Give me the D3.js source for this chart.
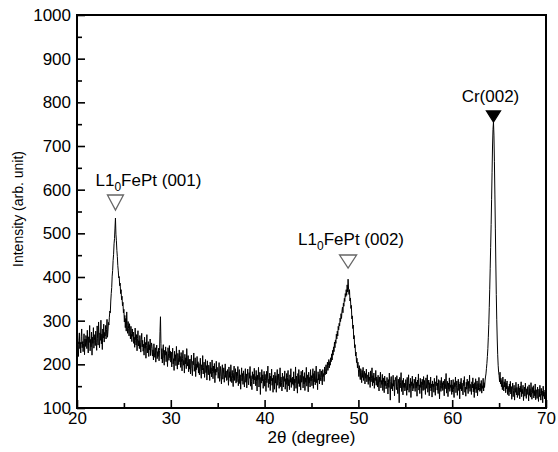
<!DOCTYPE html>
<html>
<head>
<meta charset="utf-8">
<script src="https://cdn.jsdelivr.net/npm/d3@7/dist/d3.min.js"></script>
<style>
	body { margin: 0; background: #fff; }
	text { font-family: "Liberation Sans", Arial, Helvetica, sans-serif; }
</style>
</head>
<body>
<svg id="xrd"></svg>
<script>
// scan starts at 20 deg, one reading every 0.05 deg (one row = one degree)
const thetaStart = 20;
const thetaStep = 0.05;
const intensity = [
	232,261,240,218,255,272,236,249,226,264,281,238,252,229,247,270,222,258,241,266,
	259,236,278,244,226,263,250,289,231,257,240,274,221,262,248,284,237,255,268,243,
	276,250,232,288,259,244,297,266,238,272,255,301,247,269,234,281,260,292,251,273,
	265,289,258,280,303,262,276,296,290,308,322,318,345,362,376,402,415,438,452,476,
	488,512,535,498,483,461,447,426,414,398,401,380,386,362,371,348,356,334,342,318,
	326,297,312,284,305,276,320,289,271,298,282,265,293,276,258,287,270,252,281,264,
	274,248,262,239,283,255,244,268,231,259,277,242,254,236,266,249,228,257,271,240,
	255,230,246,221,262,237,250,214,243,268,226,239,252,218,245,233,258,220,236,249,
	241,219,233,210,247,226,216,238,205,231,244,213,229,218,237,208,232,275,309,248,
	212,236,203,227,245,214,198,232,221,240,206,229,217,195,238,224,209,243,215,230,
	205,228,194,219,237,201,213,186,230,208,222,197,241,210,189,225,215,199,233,206,
	218,193,227,205,185,214,232,198,209,180,223,201,215,190,236,207,196,220,183,211,
	189,212,178,203,221,191,174,207,199,226,184,195,215,172,201,188,218,193,206,180,
	202,176,195,214,183,168,199,187,220,178,193,205,170,189,211,181,197,164,208,185,
	176,198,187,163,205,179,192,171,210,184,167,196,181,202,158,189,175,207,182,193,
	190,168,183,204,161,178,195,172,155,187,199,166,180,192,159,176,201,170,185,163,
	165,188,176,152,194,170,183,161,199,174,158,186,168,149,181,196,163,177,190,157,
	182,160,173,195,151,167,188,156,176,143,170,192,162,179,154,185,166,148,174,190,
	159,178,146,171,189,163,153,181,168,195,150,174,161,142,183,167,177,155,191,164,
	172,151,186,160,139,175,165,193,148,169,182,131,170,157,188,162,176,145,167,184,
	150,177,163,138,184,158,171,196,147,166,155,180,140,173,162,189,152,168,136,175,
	166,143,182,157,174,136,169,188,152,163,178,145,160,192,149,171,158,139,180,164,
	148,172,161,185,143,167,154,179,137,170,186,151,165,142,176,159,190,147,168,155,
	171,152,183,139,166,158,194,145,173,161,134,179,156,188,149,167,175,141,184,159,
	163,187,146,172,155,181,140,169,159,193,150,176,164,137,182,157,170,148,188,162,
	174,151,168,190,145,179,160,185,153,171,196,158,167,142,183,164,177,155,189,169,
	162,185,170,153,188,172,179,161,194,176,183,199,178,191,205,186,197,211,192,206,
	198,215,206,224,210,232,221,240,229,251,238,256,248,269,258,276,265,287,279,294,
	288,306,298,316,305,322,331,318,340,333,351,344,362,355,371,358,382,366,395,372,
	360,371,345,352,328,335,304,311,282,290,258,266,238,245,219,228,204,214,192,205,
	188,172,197,178,165,190,181,158,186,170,193,163,177,184,155,179,168,189,160,174,
	176,154,182,163,171,147,185,160,168,192,151,174,158,180,145,169,163,186,152,171,
	167,148,175,155,139,171,160,182,146,163,154,177,140,158,169,135,173,151,162,144,
	149,170,158,132,165,147,180,153,118,161,172,144,156,139,175,150,164,128,159,170,
	161,142,174,150,133,166,155,112,170,146,159,181,138,154,163,130,168,147,157,139,
	144,165,152,129,170,141,158,176,136,155,147,168,124,160,151,173,139,156,145,166,
	157,138,171,146,159,127,164,150,178,141,153,133,168,147,160,122,166,152,140,172,
	142,163,150,131,169,145,157,176,136,152,164,128,158,146,171,139,155,125,162,149,
	155,136,168,147,129,160,151,174,141,157,133,165,148,121,163,152,138,170,145,158,
	140,162,151,128,166,144,155,179,134,150,161,126,157,143,169,138,153,147,164,131,
	153,137,165,142,124,158,149,171,135,152,162,129,147,166,140,155,121,160,144,168,
	139,157,146,130,163,151,172,136,148,127,159,143,166,150,133,161,145,175,138,154,
	152,131,160,146,169,137,155,124,158,143,167,135,150,162,128,156,141,170,147,138,
	156,140,163,134,151,145,168,139,158,147,162,171,178,190,202,218,236,262,291,330,
	372,420,468,520,578,640,700,738,755,725,664,590,512,432,360,302,258,222,198,182,
	174,160,182,155,168,149,163,142,171,153,139,160,148,166,135,157,144,162,131,150,
	146,128,155,137,161,132,149,120,143,157,126,140,152,118,145,136,159,130,147,124,
	141,155,129,146,121,150,137,160,126,143,133,152,117,139,148,127,157,135,122,144,
	131,149,138,116,153,129,144,125,158,136,120,147,134,151,123,140,128,155,119,142,
	137,122,148,130,115,143,126,152,133,118,145,129,139,112,150,127,136,121,141,128,
	132
];

const xTicks = [20, 30, 40, 50, 60, 70];
const xMinorTicks = [25, 35, 45, 55, 65];
const yTicks = [100, 200, 300, 400, 500, 600, 700, 800, 900, 1000];
const yMinorTicks = [150, 250, 350, 450, 550, 650, 750, 850, 950];

const peakTheta = [24.1, 48.9, 64.4];
const peakLabel = [["L1", "0", "FePt (001)"], ["L1", "0", "FePt (002)"], ["Cr(002)"]];
const peakFilled = [false, false, true];

const width = 558, height = 452;
const plot = { left: 77, right: 546, top: 15, bottom: 408 };

// marker apex y, marker size and label offset for each peak
const markLayout = [
	{ apex: 210, w: 16, h: 15, dx: 33, ty: 186 },
	{ apex: 268, w: 17, h: 13, dx: 3, ty: 245 },
	{ apex: 122, w: 14, h: 11, dx: -3, ty: 102 }
];

const svg = d3.select("#xrd")
							.attr("width", width)
							.attr("height", height);

const x = d3.scaleLinear().domain([20, 70]).range([plot.left, plot.right]);
const y = d3.scaleLinear().domain([100, 1000]).range([plot.bottom, plot.top]);

const line = d3.line()
							 .x((d, i) => x(thetaStart + i * thetaStep))
							 .y(d => y(d));

svg.append("path")
	 .datum(intensity)
	 .attr("d", line)
	 .attr("fill", "none")
	 .attr("stroke", "#000")
	 .attr("stroke-width", 1);

// axes, ticks pointing inward
const xAxis = svg.append("g").attr("transform", "translate(0," + plot.bottom + ")");
xAxis.call(d3.axisBottom(x).tickValues(xTicks).tickSize(-8).tickPadding(4).tickFormat(d3.format("d")));
const xMinor = svg.append("g").attr("transform", "translate(0," + plot.bottom + ")");
xMinor.call(d3.axisBottom(x).tickValues(xMinorTicks).tickSize(-5).tickFormat(""));

const yAxis = svg.append("g").attr("transform", "translate(" + plot.left + ",0)");
yAxis.call(d3.axisLeft(y).tickValues(yTicks).tickSize(-8).tickPadding(6).tickFormat(d3.format("d")));
const yMinor = svg.append("g").attr("transform", "translate(" + plot.left + ",0)");
yMinor.call(d3.axisLeft(y).tickValues(yMinorTicks).tickSize(-5).tickFormat(""));

svg.selectAll(".domain").remove();
svg.selectAll(".tick line").attr("stroke", "#000").attr("stroke-width", 1.6);
svg.selectAll(".tick text")
	 .attr("fill", "#000")
	 .style("font-size", "17px")
	 .style("font-family", "'Liberation Sans', Arial, sans-serif");

svg.append("rect")
	 .attr("x", plot.left)
	 .attr("y", plot.top)
	 .attr("width", plot.right - plot.left)
	 .attr("height", plot.bottom - plot.top)
	 .attr("fill", "none")
	 .attr("stroke", "#000")
	 .attr("stroke-width", 2);

svg.append("text")
	 .attr("x", (plot.left + plot.right) / 2)
	 .attr("y", 443)
	 .attr("text-anchor", "middle")
	 .style("font-size", "17px")
	 .text("2θ (degree)");

svg.append("text")
	 .attr("transform", "translate(23,209) rotate(-90)")
	 .attr("text-anchor", "middle")
	 .style("font-size", "14px")
	 .text("Intensity (arb. unit)");

// peak markers
const marks = svg.append("g");
peakTheta.forEach((t, i) => {
	const m = markLayout[i];
	const cx = x(t);
	marks.append("path")
			 .attr("d", "M" + (cx - m.w / 2) + "," + (m.apex - m.h) + "L" + (cx + m.w / 2) + "," + (m.apex - m.h) + "L" + cx + "," + m.apex + "Z")
			 .attr("fill", peakFilled[i] ? "#000" : "#fff")
			 .attr("stroke", peakFilled[i] ? "#000" : "#666")
			 .attr("stroke-width", 1.3);

	const label = marks.append("text")
										 .attr("x", cx + m.dx)
										 .attr("y", m.ty)
										 .attr("text-anchor", "middle")
										 .style("font-size", "17px");
	peakLabel[i].forEach((part, j) => {
		const ts = label.append("tspan").text(part);
		if (j === 1) ts.style("font-size", "12px").attr("dy", 5);
		if (j === 2) ts.attr("dy", -5);
	});
});
</script>
</body>
</html>
